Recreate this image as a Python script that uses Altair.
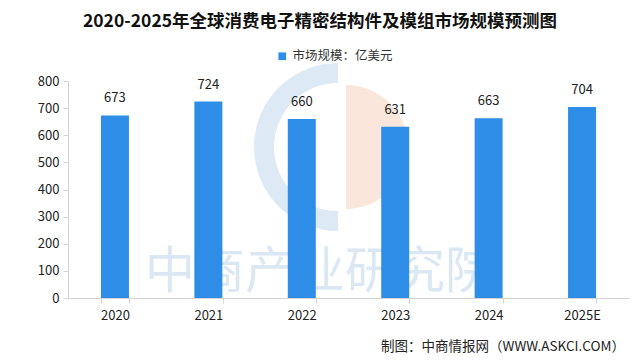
import math
import altair as alt
import pandas as pd

years = ["2020", "2021", "2022", "2023", "2024", "2025E"]
values = [673, 724, 660, 631, 663, 704]
y_ticks = [0, 100, 200, 300, 400, 500, 600, 700, 800]
series_name = "市场规模：亿美元"
title_text = "2020-2025年全球消费电子精密结构件及模组市场规模预测图"
footer_text = "制图：中商情报网（WWW.ASKCI.COM）"
watermark_text = "中商产业研究院"

FONT = "Noto Sans CJK SC"

df = pd.DataFrame({"year": years, "value": values, "series": [series_name] * len(years)})
one = pd.DataFrame({"k": [0]})

x_enc = alt.X("year:N", sort=years,
              scale=alt.Scale(paddingInner=0.695, paddingOuter=0.35),
              axis=alt.Axis(title=None, labelAngle=0, labelFontSize=13, labelColor="#222",
                            labelFont=FONT, domainColor="#d4d4d4", tickColor="#d4d4d4",
                            tickSize=5, tickBand="extent", labelPadding=6))
y_enc = alt.Y("value:Q", scale=alt.Scale(domain=[0, 800]),
              axis=alt.Axis(title=None, values=y_ticks, labelOverlap=False, labelFlush=False,
                            grid=False, labelFontSize=13, labelColor="#222", labelFont=FONT,
                            domainColor="#d4d4d4", tickColor="#d4d4d4", tickSize=5,
                            labelPadding=4))

# watermark logo (decorative)
logo_blue = alt.Chart(one).mark_arc(color="#cfe1f1", opacity=0.7).encode(
    x=alt.value(270), y=alt.value(66),
    theta=alt.value(math.pi), theta2=alt.value(2 * math.pi),
    radius=alt.value(84), radius2=alt.value(64))
logo_orange = alt.Chart(one).mark_arc(color="#f8dccb", opacity=0.7).encode(
    x=alt.value(278), y=alt.value(66),
    theta=alt.value(0), theta2=alt.value(math.pi),
    radius=alt.value(62))
watermark = alt.Chart(one).mark_text(text=watermark_text, font=FONT, fontSize=50,
                                     color="#c4daee", opacity=0.6, baseline="middle",
                                     align="center").encode(
    x=alt.value(252), y=alt.value(192))

bars = alt.Chart(df).mark_bar(size=28).encode(
    x=x_enc, y=y_enc,
    color=alt.Color("series:N", scale=alt.Scale(range=["#2e8de6"]),
                    legend=alt.Legend(title=None, orient="none", legendX=208, legendY=-31,
                                      symbolType="square", symbolSize=60,
                                      labelFontSize=12.5, labelFont=FONT, labelColor="#333")))
labels = alt.Chart(df).mark_text(dy=-10, baseline="bottom", fontSize=13, font=FONT,
                                 color="#222").encode(
    x=x_enc, y=y_enc, text="value:Q")

title = alt.Chart(one).mark_text(text=title_text, font=FONT, fontSize=17.5, fontWeight="bold",
                                 color="#111", baseline="middle", align="center").encode(
    x=alt.value(252), y=alt.value(-59))
footer = alt.Chart(one).mark_text(text=footer_text, font=FONT, fontSize=13.5, color="#222",
                                  baseline="middle", align="right").encode(
    x=alt.value(557), y=alt.value(266))

chart = alt.layer(logo_blue, logo_orange, watermark, bars, labels, title, footer).properties(
    width=561, height=217,
    autosize=alt.AutoSizeParams(type="none"),
    padding={"left": 60, "top": 73, "right": 3, "bottom": 57},
    background="white",
).configure_view(stroke=None)

chart.save("out.html", embed_options={"renderer": "svg", "actions": False})
